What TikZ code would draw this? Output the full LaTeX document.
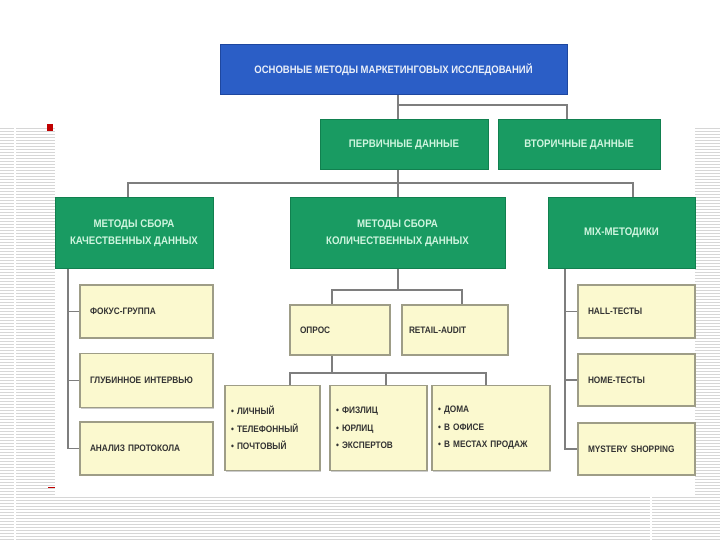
\documentclass[tikz,border=0pt]{standalone}
\usepackage{fontspec}
\setmainfont{Liberation Sans}[FakeStretch=0.88]
\usetikzlibrary{shadows}
\definecolor{topblue}{HTML}{2B5EC6}
\definecolor{topblueb}{HTML}{1E479F}
\definecolor{grn}{HTML}{199B62}
\definecolor{grnb}{HTML}{11804F}
\definecolor{grntxt}{HTML}{CFF5DF}
\definecolor{yel}{HTML}{FBF9CF}
\definecolor{yelb}{HTML}{9E9D87}
\definecolor{conn}{HTML}{7E7E7E}
\definecolor{stripe}{HTML}{D6D6D6}
\definecolor{slidered}{HTML}{C00000}
\tikzset{
  bluebox/.style={draw=topblueb, fill=topblue, line width=1pt, text=white!90!topblue,
    font=\fontsize{10.8}{12}\selectfont\bfseries, align=center, inner sep=0pt},
  grnbox/.style={draw=grnb, fill=grn, line width=1pt, text=grntxt,
    font=\fontsize{11}{17}\selectfont\bfseries, align=center, inner sep=0pt},
  yelbox/.style={draw=yelb, fill=yel, line width=1.8pt, text=black!80,
    font=\fontsize{9.4}{17.5}\selectfont\bfseries, align=left, inner xsep=10pt, inner ysep=0pt,
    drop shadow={shadow xshift=1pt, shadow yshift=-1pt, fill=gray!50, opacity=0.8}},
  link/.style={draw=conn, line width=1.2pt},
  stripeline/.style={draw=stripe, line width=0.7pt}
}
\begin{document}
\begin{tikzpicture}[x=1pt, y=-1pt]
\useasboundingbox (0,0) rectangle (720,540);
% slide background stripes
\foreach \yy in {128,131,...,540} {
  \draw[stripeline] (0,\yy) -- (55,\yy);
  \draw[stripeline] (695,\yy) -- (720,\yy);
}
\foreach \yy in {497,500,...,540} {
  \draw[stripeline] (55,\yy) -- (695,\yy);
}
\draw[white, line width=1.2pt] (15,126) -- (15,540);
\draw[white, line width=1.2pt] (651,495) -- (651,540);
\fill[slidered] (47,124) rectangle (53,131);
\draw[slidered, line width=1pt] (48,487) -- (55,487);

% nodes
\node[bluebox, minimum width=347pt, minimum height=50pt] (top) at (393.5,70) {ОСНОВНЫЕ МЕТОДЫ МАРКЕТИНГОВЫХ ИССЛЕДОВАНИЙ};
\node[grnbox, minimum width=168pt, minimum height=50pt] (perv) at (404,145) {ПЕРВИЧНЫЕ ДАННЫЕ};
\node[grnbox, minimum width=162pt, minimum height=50pt] (vtor) at (579,145) {ВТОРИЧНЫЕ ДАННЫЕ};
\node[grnbox, minimum width=158pt, minimum height=70pt] (kach) at (134,233) {МЕТОДЫ СБОРА\\КАЧЕСТВЕННЫХ ДАННЫХ};
\node[grnbox, minimum width=215pt, minimum height=70pt] (kol) at (397.5,233) {МЕТОДЫ СБОРА\\КОЛИЧЕСТВЕННЫХ ДАННЫХ};
\node[grnbox, minimum width=147pt, minimum height=70pt] (mix) at (621.5,233) {MIX-МЕТОДИКИ};

\node[yelbox, text width=113pt, minimum height=53pt] (fok) at (146.5,311.5) {ФОКУС-ГРУППА};
\node[yelbox, text width=113pt, minimum height=54pt] (glub) at (146.5,380.5) {ГЛУБИННОЕ ИНТЕРВЬЮ};
\node[yelbox, text width=113pt, minimum height=53pt] (anal) at (146.5,448.5) {АНАЛИЗ ПРОТОКОЛА};

\node[yelbox, text width=97pt, minimum height=53pt] (hall) at (636.5,311.5) {HALL-ТЕСТЫ};
\node[yelbox, text width=97pt, minimum height=52pt] (home) at (636.5,380) {HOME-ТЕСТЫ};
\node[yelbox, text width=97pt, minimum height=52pt] (myst) at (636.5,449) {MYSTERY SHOPPING};

\node[yelbox, text width=80pt, minimum height=50pt] (opros) at (340,330) {ОПРОС};
\node[yelbox, inner xsep=7pt, text width=92pt, minimum height=50pt] (retail) at (455,330) {RETAIL-AUDIT};

\node[yelbox, inner xsep=6pt, text width=83pt, minimum height=85pt] (lich) at (272.5,428) {• ЛИЧНЫЙ\\• ТЕЛЕФОННЫЙ\\• ПОЧТОВЫЙ};
\node[yelbox, inner xsep=6pt, text width=85pt, minimum height=85pt] (fiz) at (378.5,428) {• ФИЗЛИЦ\\• ЮРЛИЦ\\• ЭКСПЕРТОВ};
\node[yelbox, inner xsep=6pt, text width=106pt, minimum height=85pt] (doma) at (491,428) {• ДОМА\\• В ОФИСЕ\\• В МЕСТАХ ПРОДАЖ};

% junction coordinates
\coordinate (j1) at (398,105);
\coordinate (j2) at (567,105);
\coordinate (j3) at (398,183);
\coordinate (jk) at (128,183);
\coordinate (jm) at (633,183);
\coordinate (ql) at (68,0);
\coordinate (qr) at (565,0);
\coordinate (o1) at (398,290);
\coordinate (o2) at (332,290);
\coordinate (o3) at (462,290);
\coordinate (p1) at (332,373);
\coordinate (p2) at (290,373);
\coordinate (p3) at (386,373);
\coordinate (p4) at (486,373);

% connectors
\draw[link] (top.south -| j1) -- (j1) -- (j2) -- (vtor.north -| j2);
\draw[link] (j1) -- (perv.north -| j1);
\draw[link] (perv.south -| j3) -- (j3);
\draw[link] (kach.north -| jk) -- (jk) -- (jm) -- (mix.north -| jm);
\draw[link] (j3) -- (kol.north -| j3);
\draw[link] (kach.south -| ql) -- (anal.west -| ql) -- (anal.west);
\draw[link] (fok.west -| ql) -- (fok.west);
\draw[link] (glub.west -| ql) -- (glub.west);
\draw[link] (mix.south -| qr) -- (myst.west -| qr) -- (myst.west);
\draw[link] (hall.west -| qr) -- (hall.west);
\draw[link] (home.west -| qr) -- (home.west);
\draw[link] (kol.south -| o1) -- (o1);
\draw[link] (opros.north -| o2) -- (o2) -- (o3) -- (retail.north -| o3);
\draw[link] (opros.south -| p1) -- (p1);
\draw[link] (lich.north -| p2) -- (p2) -- (p4) -- (doma.north -| p4);
\draw[link] (p3) -- (fiz.north -| p3);
\end{tikzpicture}
\end{document}
